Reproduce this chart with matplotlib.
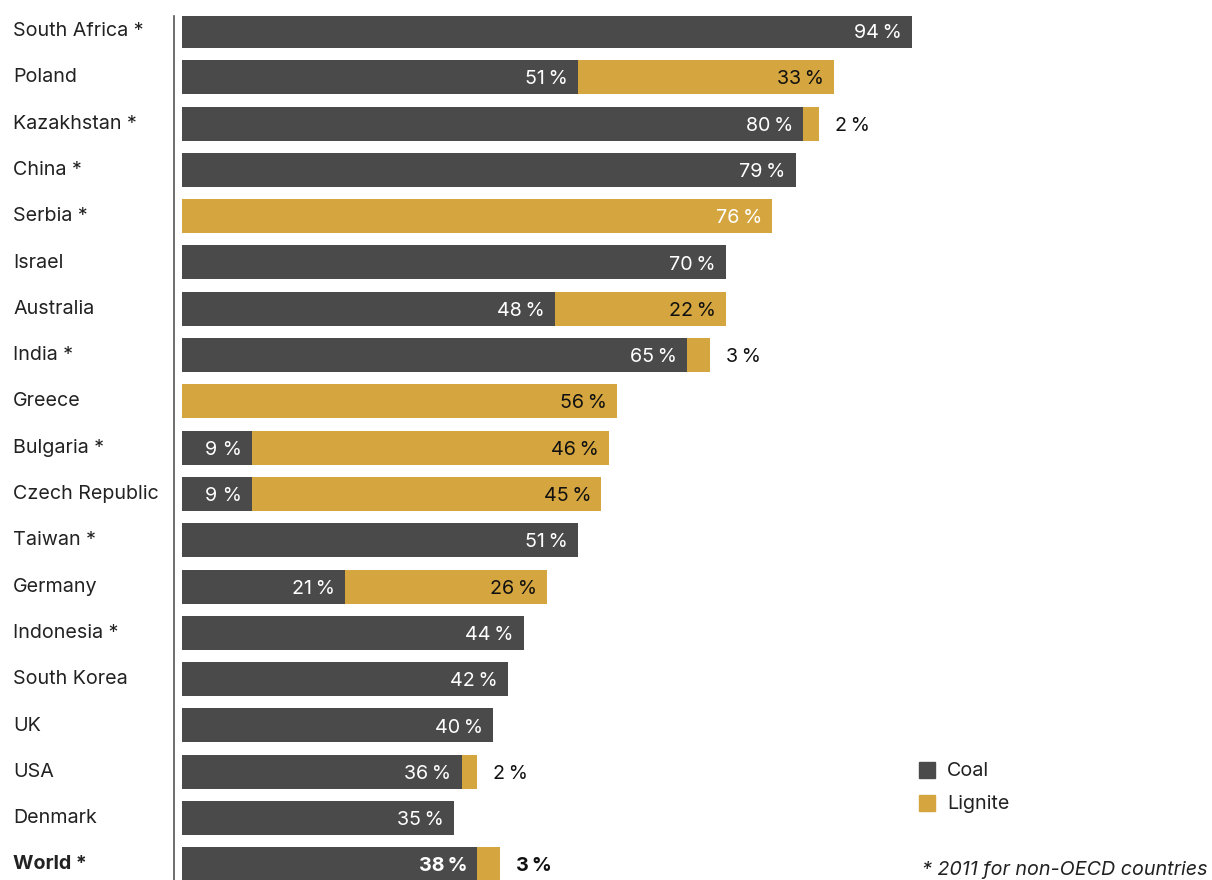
import matplotlib
matplotlib.use("Agg")
import matplotlib.pyplot as plt
from matplotlib.patches import Rectangle

countries = ["South Africa *", "Poland", "Kazakhstan *", "China *", "Serbia *", "Israel",
             "Australia", "India *", "Greece", "Bulgaria *", "Czech Republic", "Taiwan *",
             "Germany", "Indonesia *", "South Korea", "UK", "USA", "Denmark", "World *"]
coal =    [94, 51, 80, 79, 0, 70, 48, 65, 0, 9, 9, 51, 21, 44, 42, 40, 36, 35, 38]
lignite = [0, 33, 2, 0, 76, 0, 22, 3, 56, 46, 45, 0, 26, 0, 0, 0, 2, 0, 3]
T = "\u2009"
coal_labels = ["94" + T + "%", "51" + T + "%", "80" + T + "%", "79" + T + "%", "", "70" + T + "%",
               "48" + T + "%", "65" + T + "%", "", "9 %", "9 %", "51" + T + "%", "21" + T + "%",
               "44" + T + "%", "42" + T + "%", "40" + T + "%", "36" + T + "%", "35" + T + "%",
               "38" + T + "%"]
lignite_labels = ["", "33" + T + "%", "2" + T + "%", "", "76" + T + "%", "", "22" + T + "%",
                  "3" + T + "%", "56" + T + "%", "46" + T + "%", "45" + T + "%", "",
                  "26" + T + "%", "", "", "", "2" + T + "%", "", "3" + T + "%"]
legend_labels = ["Coal", "Lignite"]
footnote = "* 2011 for non-OECD countries"

COAL = "#4a4a4a"
LIG = "#d5a63f"
W, H = 1212, 880
plt.rcParams['font.family'] = ['Inter', 'DejaVu Sans']

fig = plt.figure(figsize=(W / 100, H / 100), dpi=100)
px = 7.766  # pixels per percent
x0 = 182
ax_left = 174
ax = fig.add_axes([ax_left / W, 0, 1 - ax_left / W, (880 - 16) / H])
xmin = -(x0 - ax_left) / px
xmax = (W - x0) / px
ax.set_xlim(xmin, xmax)
pitch = 46.3
c0 = 31
ax.set_ylim((880 - c0) / pitch, (16 - c0) / pitch)

fs = 14.2
n = len(countries)
ys = list(range(n))
bh = 34 / pitch
ax.barh(ys, coal, height=bh, color=COAL, label=legend_labels[0])
ax.barh(ys, lignite, left=coal, height=bh, color=LIG, label=legend_labels[1])

pad = 10 / px
gap = 16 / px
dy = 2 / pitch
for i in range(n):
    bold = "bold" if countries[i].startswith("World") else "normal"
    if coal[i] > 0:
        ax.text(coal[i] - pad, i + dy, coal_labels[i], ha="right", va="center", color="white",
                fontsize=fs, fontweight=bold)
    if lignite[i] > 0:
        end = coal[i] + lignite[i]
        if lignite[i] >= 10:
            col = "white" if coal[i] == 0 and lignite[i] > 70 else "#111111"
            ax.text(end - pad, i + dy, lignite_labels[i], ha="right", va="center", color=col,
                    fontsize=fs, fontweight=bold)
        else:
            ax.text(end + gap, i + dy, lignite_labels[i], ha="left", va="center", color="#111111",
                    fontsize=fs, fontweight=bold)
    fig.text(13 / W, 1 - (c0 + pitch * i) / H, countries[i], ha="left", va="center",
             fontsize=fs, color="#222222", fontweight=bold)

for s in ["top", "right", "bottom"]:
    ax.spines[s].set_visible(False)
ax.spines["left"].set_color("#555555")
ax.spines["left"].set_linewidth(1.2)
ax.set_xticks([])
ax.set_yticks([])

# legend
for k, (lab, col) in enumerate(zip(legend_labels, [COAL, LIG])):
    yc = 770 + 33 * k
    fig.patches.append(Rectangle((919 / W, 1 - (yc + 8) / H), 16 / W, 16 / H,
                                 transform=fig.transFigure, color=col))
    fig.text(947 / W, 1 - (yc + 1) / H, lab, ha="left", va="center", fontsize=fs, color="#222222")

fig.text(1207 / W, 1 - 870 / H, footnote, ha="right", va="center", fontsize=fs,
         style="italic", color="#222222")

fig.savefig("out.png", dpi=100)
